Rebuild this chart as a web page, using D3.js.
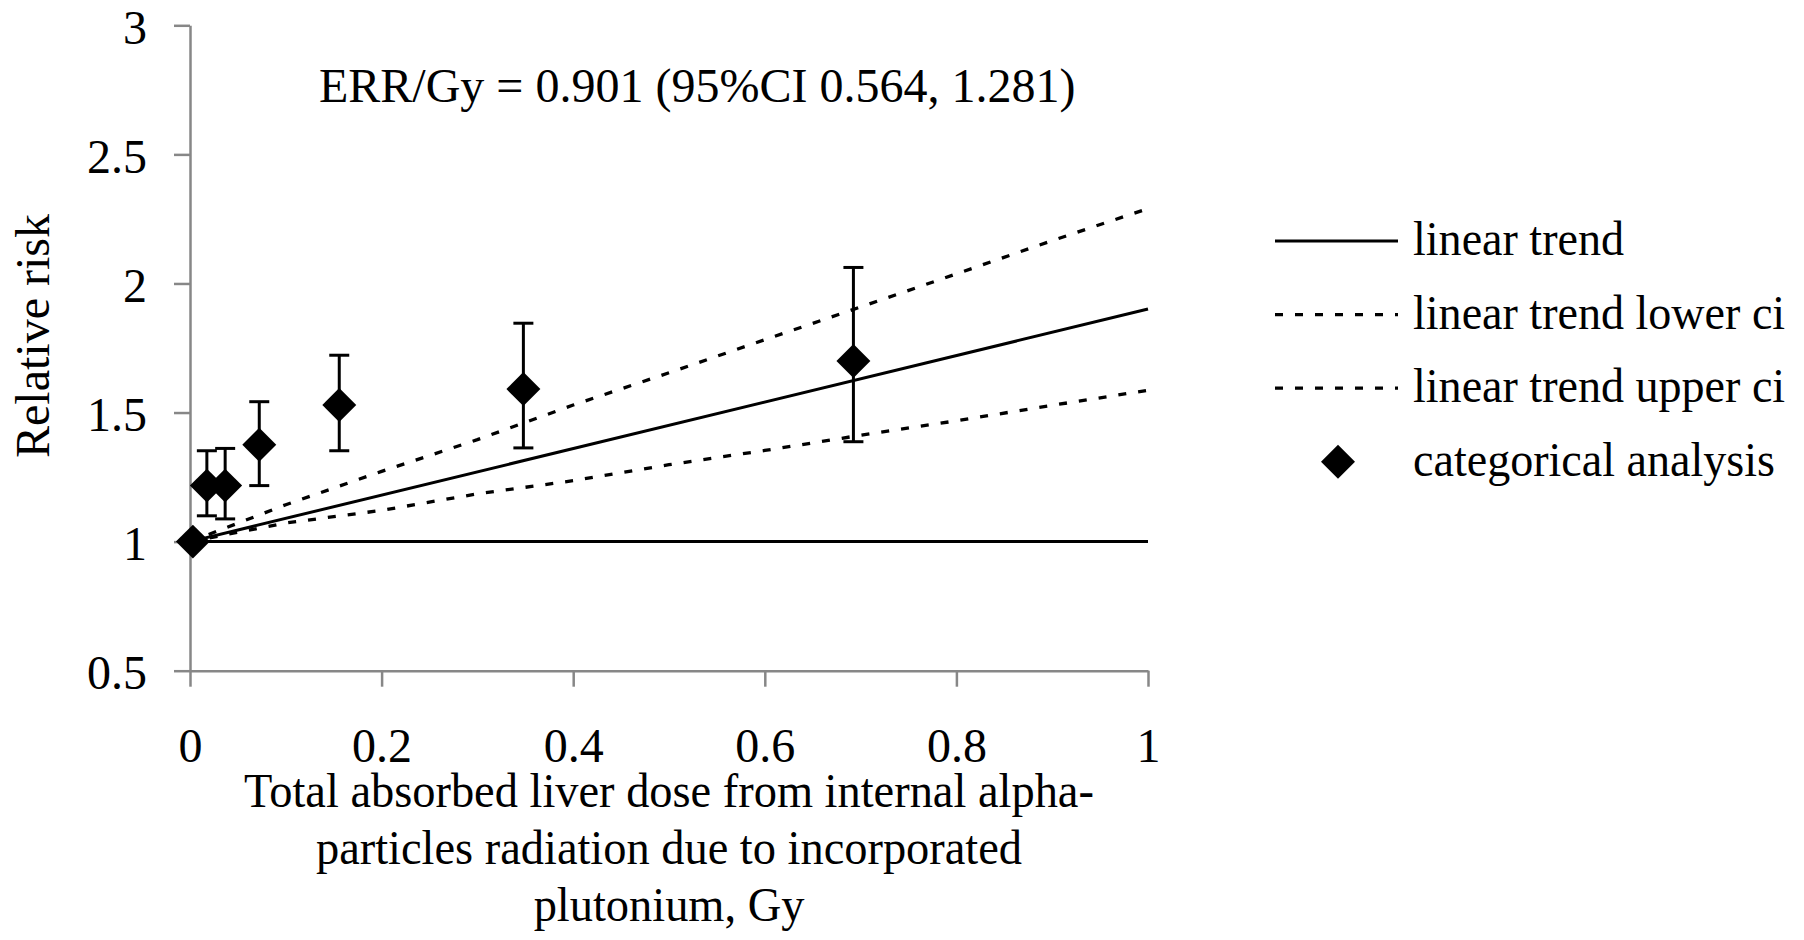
<!DOCTYPE html>
<html lang="en">
<head>
<meta charset="UTF-8">
<title>Relative risk by liver dose</title>
<script src="https://cdn.jsdelivr.net/npm/d3@7"></script>
<style>
  body { margin: 0; background: #fff; }
  svg text { font-family: "Liberation Serif", "Times New Roman", serif; }
</style>
</head>
<body>
<script>
// categorical analysis points (dose in Gy, relative risk, error bar ends)
var catDose = [0.003, 0.0176, 0.0367, 0.0723, 0.1558, 0.348, 0.6925];
var catRR   = [1.0, 1.217, 1.217, 1.375, 1.529, 1.591, 1.700];
var catLow  = [null, 1.100, 1.088, 1.217, 1.352, 1.363, 1.387];
var catHigh = [null, 1.352, 1.361, 1.542, 1.722, 1.846, 2.062];

// fitted linear trend and its confidence bounds
var trendDose = [0, 1];
var trendRR = [1, 1.901];
var ciDose  = [0, 0.1, 0.2, 0.3, 0.4, 0.5, 0.6, 0.7, 0.8, 0.9, 1.0];
var lowerRR = [1, 1.072, 1.121, 1.185, 1.236, 1.298, 1.353, 1.412, 1.468, 1.528, 1.586];
var upperRR = [1, 1.143, 1.272, 1.395, 1.529, 1.654, 1.782, 1.909, 2.037, 2.166, 2.290];

// reference line RR = 1
var refDose = [0, 1];
var refRR = [1, 1];

var xTicks = [0, 0.2, 0.4, 0.6, 0.8, 1];
var xTickLabels = ["0", "0.2", "0.4", "0.6", "0.8", "1"];
var yTicks = [0.5, 1, 1.5, 2, 2.5, 3];
var yTickLabels = ["0.5", "1", "1.5", "2", "2.5", "3"];

var legendLabels = ["linear trend", "linear trend lower ci", "linear trend upper ci", "categorical analysis"];
var noteText = "ERR/Gy = 0.901 (95%CI 0.564, 1.281)";
var xTitleLines = ["Total absorbed liver dose from internal alpha-",
                   "particles radiation due to incorporated",
                   "plutonium, Gy"];
var yTitle = "Relative risk";

var width = 1804, height = 940;
var plotLeft = 190, plotRight = 1148, plotTop = 25.3, plotBottom = 670.7;
var gray = "#878787";
var fontSize = 48;
var dash = "8,12";

var svg = d3.select("body").append("svg")
    .attr("width", width)
    .attr("height", height)
    .style("background", "#fff");

var x = d3.scaleLinear().domain([0, 1]).range([plotLeft, plotRight]);
var y = d3.scaleLinear().domain([0.5, 3]).range([plotBottom, plotTop]);

// axes
var gx = svg.append("g")
    .attr("transform", "translate(0," + plotBottom + ")")
    .call(d3.axisBottom(x).tickValues(xTicks)
        .tickFormat(function (d, i) { return xTickLabels[i]; })
        .tickSize(16).tickSizeOuter(0));
var gy = svg.append("g")
    .attr("transform", "translate(" + plotLeft + ",0)")
    .call(d3.axisLeft(y).tickValues(yTicks)
        .tickFormat(function (d, i) { return yTickLabels[i]; })
        .tickSize(16).tickSizeOuter(0));

[gx, gy].forEach(function (g) {
    g.attr("font-family", null).attr("font-size", fontSize);
    g.select(".domain").attr("stroke", gray).attr("stroke-width", 2.5);
    g.selectAll(".tick line").attr("stroke", gray).attr("stroke-width", 2.5);
    g.selectAll(".tick text").attr("fill", "#000");
});
gx.selectAll(".tick text").attr("y", 91).attr("dy", null);
gy.selectAll(".tick text").attr("x", -43).attr("dy", "0.38em");

// lines
var line = d3.line()
    .x(function (d) { return x(d[0]); })
    .y(function (d) { return y(d[1]); });

function pairs(xs, ys) { return xs.map(function (v, i) { return [v, ys[i]]; }); }

svg.append("path").datum(pairs(refDose, refRR))
    .attr("d", line).attr("fill", "none").attr("stroke", "#000").attr("stroke-width", 3);
svg.append("path").datum(pairs(trendDose, trendRR))
    .attr("d", line).attr("fill", "none").attr("stroke", "#000").attr("stroke-width", 3);
svg.append("path").datum(pairs(ciDose, lowerRR))
    .attr("d", line).attr("fill", "none").attr("stroke", "#000").attr("stroke-width", 3.3)
    .attr("stroke-dasharray", dash);
svg.append("path").datum(pairs(ciDose, upperRR))
    .attr("d", line).attr("fill", "none").attr("stroke", "#000").attr("stroke-width", 3.3)
    .attr("stroke-dasharray", dash);

// error bars
var cats = catDose.map(function (d, i) {
    return { dose: d, rr: catRR[i], lo: catLow[i], hi: catHigh[i] };
});
var bars = svg.append("g").selectAll("g")
    .data(cats.filter(function (d) { return d.lo !== null; }))
    .enter().append("g")
    .attr("stroke", "#000").attr("stroke-width", 3);
bars.append("line")
    .attr("x1", function (d) { return x(d.dose); })
    .attr("x2", function (d) { return x(d.dose); })
    .attr("y1", function (d) { return y(d.lo); })
    .attr("y2", function (d) { return y(d.hi); });
bars.append("line")
    .attr("x1", function (d) { return x(d.dose) - 10; })
    .attr("x2", function (d) { return x(d.dose) + 10; })
    .attr("y1", function (d) { return y(d.hi); })
    .attr("y2", function (d) { return y(d.hi); });
bars.append("line")
    .attr("x1", function (d) { return x(d.dose) - 10; })
    .attr("x2", function (d) { return x(d.dose) + 10; })
    .attr("y1", function (d) { return y(d.lo); })
    .attr("y2", function (d) { return y(d.lo); });

// diamonds
var diamond = d3.symbol().type(d3.symbolSquare).size(576);
svg.append("g").selectAll("path")
    .data(cats)
    .enter().append("path")
    .attr("d", diamond)
    .attr("transform", function (d) {
        return "translate(" + x(d.dose) + "," + y(d.rr) + ") rotate(45)";
    })
    .attr("fill", "#000");

// annotation
svg.append("text")
    .attr("x", 319).attr("y", 102)
    .attr("font-size", fontSize)
    .text(noteText);

// axis titles (slightly narrow, like the original)
svg.append("g").selectAll("text")
    .data(xTitleLines)
    .enter().append("text")
    .attr("transform", function (d, i) {
        return "translate(" + ((plotLeft + plotRight) / 2) + "," + (807 + i * 57) + ") scale(0.967,1)";
    })
    .attr("text-anchor", "middle")
    .attr("font-size", fontSize)
    .text(function (d) { return d; });

svg.append("text")
    .attr("transform", "translate(49,336) rotate(-90)")
    .attr("text-anchor", "middle")
    .attr("font-size", fontSize)
    .text(yTitle);

// legend
var legend = svg.append("g").selectAll("g")
    .data(legendLabels)
    .enter().append("g")
    .attr("transform", function (d, i) { return "translate(0," + (241 + i * 73.6) + ")"; });
legend.filter(function (d, i) { return i < 3; })
    .append("line")
    .attr("x1", 1275).attr("x2", 1398)
    .attr("stroke", "#000")
    .attr("stroke-width", function (d, i) { return i === 0 ? 3 : 3.3; })
    .attr("stroke-dasharray", function (d, i) { return i === 0 ? null : dash; });
legend.filter(function (d, i) { return i === 3; })
    .append("path")
    .attr("d", diamond)
    .attr("transform", "translate(1338,0) rotate(45)")
    .attr("fill", "#000");
legend.append("text")
    .attr("transform", "translate(1413,14) scale(0.96,1)")
    .attr("font-size", fontSize)
    .text(function (d) { return d; });
</script>
</body>
</html>
